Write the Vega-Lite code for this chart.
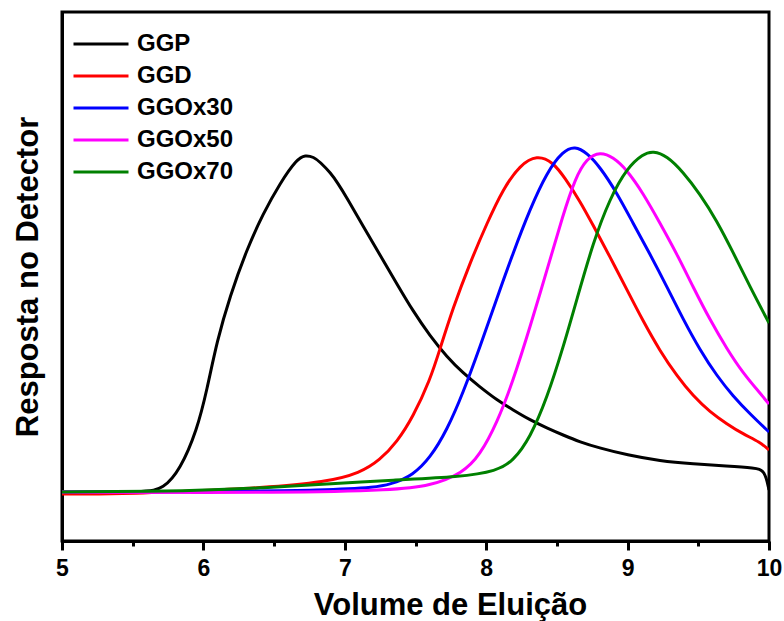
{
  "$schema": "https://vega.github.io/schema/vega-lite/v6.json",
  "width": 707,
  "height": 529,
  "autosize": {"type": "none"},
  "padding": {"left": 62, "top": 12, "right": 15, "bottom": 80},
  "background": "white",
  "config": {
    "font": "Liberation Sans",
    "view": {"stroke": "black", "strokeWidth": 3},
    "axis": {"labelFontWeight": "bold", "titleFontWeight": "bold", "labelColor": "black", "titleColor": "black", "domainColor": "black", "domainWidth": 3, "grid": false}
  },
  "data": {"values": [
    {"s":"GGP","v":5.0,"r":49},{"s":"GGP","v":5.6,"r":49},{"s":"GGP","v":5.714,"r":52},{"s":"GGP","v":5.835,"r":71},{"s":"GGP","v":5.955,"r":111},{"s":"GGP","v":6.025,"r":151},{"s":"GGP","v":6.096,"r":200},{"s":"GGP","v":6.188,"r":245},{"s":"GGP","v":6.308,"r":292},{"s":"GGP","v":6.421,"r":327},{"s":"GGP","v":6.542,"r":358},{"s":"GGP","v":6.662,"r":382},{"s":"GGP","v":6.72,"r":386},{"s":"GGP","v":6.78,"r":384},{"s":"GGP","v":6.825,"r":379},{"s":"GGP","v":6.9,"r":368},{"s":"GGP","v":6.95,"r":358},{"s":"GGP","v":7.016,"r":343},{"s":"GGP","v":7.129,"r":315},{"s":"GGP","v":7.249,"r":286},{"s":"GGP","v":7.369,"r":257},{"s":"GGP","v":7.482,"r":230},{"s":"GGP","v":7.603,"r":205},{"s":"GGP","v":7.723,"r":184},{"s":"GGP","v":7.836,"r":168},{"s":"GGP","v":7.956,"r":154},{"s":"GGP","v":8.076,"r":141},{"s":"GGP","v":8.19,"r":131},{"s":"GGP","v":8.31,"r":121},{"s":"GGP","v":8.43,"r":113},{"s":"GGP","v":8.543,"r":106},{"s":"GGP","v":8.663,"r":99},{"s":"GGP","v":8.8,"r":93},{"s":"GGP","v":8.996,"r":86},{"s":"GGP","v":9.229,"r":80},{"s":"GGP","v":9.463,"r":77},{"s":"GGP","v":9.703,"r":75},{"s":"GGP","v":9.9,"r":73},{"s":"GGP","v":9.97,"r":71},{"s":"GGP","v":10.0,"r":51},
    {"s":"GGD","v":5.0,"r":47},{"s":"GGD","v":5.41,"r":47},{"s":"GGD","v":5.926,"r":50},{"s":"GGD","v":6.4,"r":53},{"s":"GGD","v":6.874,"r":59},{"s":"GGD","v":7.107,"r":68},{"s":"GGD","v":7.249,"r":81},{"s":"GGD","v":7.369,"r":99},{"s":"GGD","v":7.482,"r":124},{"s":"GGD","v":7.603,"r":161},{"s":"GGD","v":7.673,"r":192},{"s":"GGD","v":7.765,"r":233},{"s":"GGD","v":7.885,"r":278},{"s":"GGD","v":8.006,"r":318},{"s":"GGD","v":8.119,"r":352},{"s":"GGD","v":8.239,"r":376},{"s":"GGD","v":8.359,"r":386},{"s":"GGD","v":8.472,"r":379},{"s":"GGD","v":8.557,"r":363},{"s":"GGD","v":8.663,"r":340},{"s":"GGD","v":8.755,"r":316},{"s":"GGD","v":8.876,"r":284},{"s":"GGD","v":8.996,"r":251},{"s":"GGD","v":9.109,"r":220},{"s":"GGD","v":9.229,"r":190},{"s":"GGD","v":9.349,"r":165},{"s":"GGD","v":9.463,"r":145},{"s":"GGD","v":9.583,"r":129},{"s":"GGD","v":9.703,"r":117},{"s":"GGD","v":9.816,"r":107},{"s":"GGD","v":9.936,"r":99},{"s":"GGD","v":10.0,"r":91},
    {"s":"GGOx30","v":5.0,"r":49},{"s":"GGOx30","v":7.107,"r":50},{"s":"GGOx30","v":7.341,"r":57},{"s":"GGOx30","v":7.482,"r":66},{"s":"GGOx30","v":7.603,"r":83},{"s":"GGOx30","v":7.723,"r":111},{"s":"GGOx30","v":7.836,"r":148},{"s":"GGOx30","v":7.956,"r":194},{"s":"GGOx30","v":8.076,"r":243},{"s":"GGOx30","v":8.19,"r":288},{"s":"GGOx30","v":8.31,"r":332},{"s":"GGOx30","v":8.43,"r":369},{"s":"GGOx30","v":8.543,"r":390},{"s":"GGOx30","v":8.628,"r":395},{"s":"GGOx30","v":8.713,"r":388},{"s":"GGOx30","v":8.805,"r":374},{"s":"GGOx30","v":8.925,"r":348},{"s":"GGOx30","v":9.038,"r":318},{"s":"GGOx30","v":9.158,"r":287},{"s":"GGOx30","v":9.279,"r":254},{"s":"GGOx30","v":9.392,"r":222},{"s":"GGOx30","v":9.512,"r":191},{"s":"GGOx30","v":9.632,"r":165},{"s":"GGOx30","v":9.745,"r":145},{"s":"GGOx30","v":9.866,"r":127},{"s":"GGOx30","v":10.0,"r":109},
    {"s":"GGOx50","v":5.0,"r":49},{"s":"GGOx50","v":6.634,"r":48},{"s":"GGOx50","v":7.341,"r":51},{"s":"GGOx50","v":7.603,"r":55},{"s":"GGOx50","v":7.836,"r":68},{"s":"GGOx50","v":7.956,"r":86},{"s":"GGOx50","v":8.076,"r":118},{"s":"GGOx50","v":8.19,"r":160},{"s":"GGOx50","v":8.31,"r":214},{"s":"GGOx50","v":8.43,"r":271},{"s":"GGOx50","v":8.543,"r":326},{"s":"GGOx50","v":8.63,"r":363},{"s":"GGOx50","v":8.713,"r":383},{"s":"GGOx50","v":8.805,"r":389},{"s":"GGOx50","v":8.897,"r":384},{"s":"GGOx50","v":8.996,"r":371},{"s":"GGOx50","v":9.109,"r":348},{"s":"GGOx50","v":9.229,"r":318},{"s":"GGOx50","v":9.349,"r":287},{"s":"GGOx50","v":9.463,"r":254},{"s":"GGOx50","v":9.583,"r":221},{"s":"GGOx50","v":9.703,"r":192},{"s":"GGOx50","v":9.816,"r":168},{"s":"GGOx50","v":9.936,"r":148},{"s":"GGOx50","v":10.0,"r":137},
    {"s":"GGOx70","v":5.0,"r":49},{"s":"GGOx70","v":5.926,"r":50},{"s":"GGOx70","v":6.4,"r":53},{"s":"GGOx70","v":6.874,"r":57},{"s":"GGOx70","v":7.341,"r":61},{"s":"GGOx70","v":7.815,"r":64},{"s":"GGOx70","v":8.076,"r":70},{"s":"GGOx70","v":8.19,"r":80},{"s":"GGOx70","v":8.31,"r":103},{"s":"GGOx70","v":8.43,"r":143},{"s":"GGOx70","v":8.543,"r":193},{"s":"GGOx70","v":8.642,"r":242},{"s":"GGOx70","v":8.755,"r":298},{"s":"GGOx70","v":8.876,"r":343},{"s":"GGOx70","v":8.996,"r":373},{"s":"GGOx70","v":9.109,"r":387},{"s":"GGOx70","v":9.18,"r":390},{"s":"GGOx70","v":9.279,"r":385},{"s":"GGOx70","v":9.392,"r":369},{"s":"GGOx70","v":9.512,"r":347},{"s":"GGOx70","v":9.632,"r":320},{"s":"GGOx70","v":9.745,"r":289},{"s":"GGOx70","v":9.866,"r":254},{"s":"GGOx70","v":10.0,"r":218}
  ]},
  "mark": {"type": "line", "strokeWidth": 3, "interpolate": "basis", "clip": true},
  "encoding": {
    "x": {
      "field": "v", "type": "quantitative",
      "scale": {"domain": [5, 10], "nice": false, "zero": false},
      "axis": {
        "title": "Volume de Eluição",
        "values": [5, 5.5, 6, 6.5, 7, 7.5, 8, 8.5, 9, 9.5, 10],
        "labelExpr": "datum.value % 1 === 0 ? format(datum.value, 'd') : ''",
        "labelFontSize": 23,
        "labelPadding": 7,
        "labelFlush": false,
        "labelOverlap": false,
        "tickColor": "black",
        "tickWidth": 3,
        "tickSize": {"condition": {"test": "datum.value % 1 === 0", "value": 9}, "value": 5},
        "titleFontSize": 31,
        "titlePadding": 10,
        "titleX": 388
      }
    },
    "y": {
      "field": "r", "type": "quantitative",
      "scale": {"domain": [0, 529], "nice": false},
      "axis": {
        "title": "Resposta no Detector",
        "labels": false,
        "ticks": false,
        "titleFontSize": 31,
        "titlePadding": 18
      }
    },
    "color": {
      "field": "s", "type": "nominal",
      "scale": {"domain": ["GGP", "GGD", "GGOx30", "GGOx50", "GGOx70"], "range": ["#000000", "#FF0000", "#0000FF", "#FF00FF", "#008000"]},
      "legend": {
        "title": null,
        "orient": "none",
        "legendX": 10,
        "legendY": 20,
        "padding": 0,
        "symbolType": "stroke",
        "symbolSize": 3025,
        "symbolStrokeWidth": 3,
        "clipHeight": 24,
        "rowPadding": 8,
        "labelFontSize": 24,
        "labelFontWeight": "bold",
        "labelColor": "black",
        "labelOffset": 7
      }
    }
  }
}
